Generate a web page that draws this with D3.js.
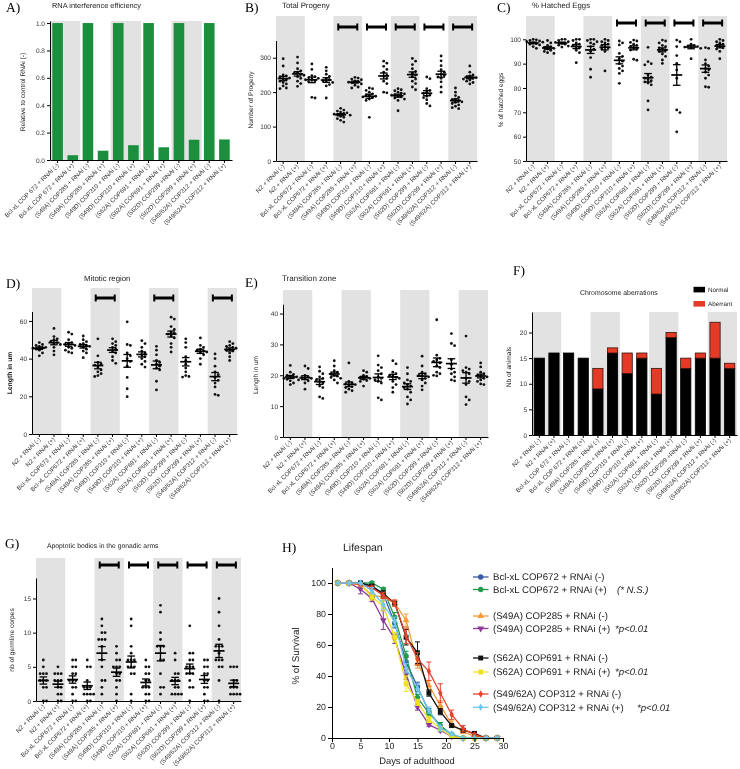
<!DOCTYPE html>
<html><head><meta charset="utf-8">
<script src="https://cdn.jsdelivr.net/npm/d3@7"></script>
<style>
body{margin:0;background:#fff;}
svg{display:block;will-change:transform;}
text{-webkit-font-smoothing:antialiased;text-rendering:geometricPrecision;}
</style></head><body>
<svg id="c" width="740" height="769"></svg>
<script>
// ---------------- DATA ----------------
const catsA = ["Bcl-xL COP 672 + RNAi (-)","Bcl-xL COP 672 + RNAi (+)","(S49A) COP285 + RNAi (-)","(S49A) COP285 + RNAi (+)","(S49D) COP310 + RNAi (-)","(S49D) COP310 + RNAi (+)","(S62A) COP691 + RNAi (-)","(S62A) COP691 + RNAi (+)","(S62D) COP299 +RNAi (-)","(S62D) COP299 + RNAi (+)","(S49/62A) COP312 + RNAi (-)","(S49/62A) COP312 + RNAi (+)"];
const rnaiEfficiency = [1.0,0.035,1.0,0.068,1.0,0.108,1.0,0.093,1.0,0.148,1.0,0.15];

const catsBG = ["N2 + RNAi (-)","N2 + RNAi (+)","Bcl-xL COP672 + RNAi (-)","Bcl-xL COP672 + RNAi (+)","(S49A) COP285 + RNAi (-)","(S49A) COP285 + RNAi (+)","(S49D) COP310 + RNAi (-)","(S49D) COP310 + RNAi (+)","(S62A) COP691 + RNAi (-)","(S62A) COP691  + RNAi (+)","(S62D) COP299 + RNAi (-)","(S62D) COP299 + RNAi (+)","(S49/62A) COP312 + RNAi (-)","(S49/62A) COP312 + RNAi (+)"];
const catsF = ["N2 + RNAi (-)","N2 + RNAi (+)","Bcl-xL COP 672 + RNAi (-)","Bcl-xL COP 672 + RNAi (+)","(S49A) COP285 + RNAi (-)","(S49A) COP285 + RNAi (+)","(S49D) COP310 + RNAi (-)","(S49D) COP310 + RNAi (+)","(S62A) COP691 + RNAi (-)","(S62A) COP691 + RNAi (+)","(S62D) COP299 +RNAi (-)","(S62D) COP299 + RNAi (+)","(S49/62A) COP312 + RNAi (-)","(S49/62A) COP312 + RNAi (+)"];

const progeny = [
 [297,276,250,247,244,241,238,236,232,228,224,218,212,210],
 [302,285,268,262,258,255,252,249,245,240,232,225,217],
 [282,266,248,245,242,240,238,236,233,230,185,183],
 [272,262,252,246,240,236,233,230,228,222,218,183],
 [153,148,145,142,140,138,136,135,133,130,127,123,118,113],
 [243,241,238,236,233,231,229,227,224,220,215,212],
 [212,210,205,200,195,192,190,188,186,184,180,176,127],
 [290,284,275,266,258,250,246,240,232,225,200,198],
 [210,207,204,200,197,195,193,191,188,186,183,180,176,146],
 [298,290,280,268,260,255,250,245,238,232,225,215,207],
 [244,239,210,205,200,196,192,188,184,178,167,160],
 [305,291,277,265,258,252,248,244,240,230,215,200],
 [212,200,190,185,180,178,175,172,170,167,163,159,155,152],
 [276,258,250,247,244,242,240,238,235,232,228,224]
];
const hatched = [
 [100,99.8,99.5,99.3,99,98.8,98.5,98.2,98,97.7,97,96.3],
 [99.5,98.5,97.5,97,96.7,96.3,96,95.5,95,94.5,94.2],
 [100,100,99.5,99,98.7,98.3,98,97.6,97.2,96.8],
 [100,100,99.5,98.5,98,97.5,97,96.5,95.5,94.5,90.4],
 [100,100,99.5,99,98.5,98,97,96,95,92.5,87.7,84.4],
 [100,99.5,99,98.5,98,97.5,97,96.5,96,95,87],
 [99.3,98.5,97.7,94.2,93,92,91,90,89,88,87,86,81.9],
 [99.7,99.3,98.7,98,97.5,97,96.5,96,95.6,91.8,91.4],
 [96.7,90.8,90,89.5,85.3,84.5,84,83.5,83,82.5,82,81.3,74.7,71],
 [99.7,99.3,98.5,97.5,97,96.5,96,95.5,95,94,93,91.5,90.1],
 [99.7,99,97,93.3,90.1,87.4,84,71,69.9,62],
 [100,98,97.5,97.2,97,96.8,96.6,96.3,92],
 [96.6,96.3,91.5,90,89,88,87.5,86.5,85.3,84,80.5,80.3],
 [100,99.5,99,98.5,98,97.5,97,96.5,96,95,92]
];
const mitotic = [
 [48.5,47.5,47,46.5,46,45.8,45.5,45,44.5,43,41.5],
 [56,51.7,50.5,50,49,48.5,48,47.5,46,44,42],
 [54,53,50,48.5,48,47.5,47,46,45.5,44.5,43.5,43],
 [52,50,49,48,47.5,47,46.5,46,45,44,43,40.5],
 [50.5,41.5,38,37,36.5,35.5,34,33,32,31,30.5],
 [50.5,49,48,47,46,45,44,43,41,39,37.5],
 [59.5,47.5,47,43,41.5,40,38.5,36,30,24,19.8],
 [49.5,48,46,44,43,42,41,40,38.5,37,35.5],
 [46.5,44.5,42,39,38,37,36,35,34,28,23.4],
 [62,61,57,55.5,54,53.5,53,52,51,48,46,43.5],
 [50.5,48.5,46,41,39,37,35,33,31,30.5,30.2],
 [51,47,46,45,44.5,44,43.5,43,42,40,37],
 [42.5,40,36,33,31.5,30,28.5,27,25,21,20.5],
 [49,48,47,46.5,46,45.5,45,44.5,44,43,41,39]
];
const transition = [
 [23.2,21,20.3,20,19.7,19.5,19.2,19,18.7,18.2,17.5,17],
 [23,22.2,20,19.5,19.2,19,18.8,18.5,18.2,17.5,15.5],
 [22.7,21.3,20.5,19.5,19,18.5,18,17.5,16.5,16,13,12.5],
 [24.7,23,21.5,21,20.5,20,19.7,19.3,19,18.5,17.5],
 [24,18,17.5,17.2,17,16.7,16.3,16,15.5,15,14.5],
 [21.5,21,20,19.6,19.3,19,18.7,18.3,18,16.5],
 [26.3,23.3,22.5,21.5,20.5,19.5,19,18.5,18,17.5,12.7,12],
 [24.7,23.7,21,20.5,20,19.7,19.3,19,18,17,16,14.5],
 [22.5,20.5,18.5,18,17.5,17,16.5,16,15.5,14.5,13,12,10.7],
 [26.2,23,21,20.5,20,19.8,19.5,19,18.5,17.5,16.5,15.3],
 [38,26.5,25.5,25,24.5,24,23,22.5,21,20.5,20,19.8],
 [33.5,30.3,29.6,25,23.5,22,21,20.5,19.5,18.5,18.2],
 [32.7,22.5,22,21.5,21,20.5,19,18,17,13,12,10.5],
 [24,22.7,21,20.5,20,19.8,19.5,19,18.5,18,17.2,17]
];
const apoptotic = [
 [6,5,4,4,4,3,3,3,2,2,0,0],
 [5,4,4,4,3,3,3,2,2,1,1,0,0],
 [6,6,5,5,4,4,3,3,3,2,2,1,0,0],
 [6,5,5,3,2,2,2,1,1,1,1,0,0],
 [12,11,10,10,9,9,9,8,6,5,3,3,2,1],
 [8,7,6,6,5,5,5,4,4,3,3,2,1,0],
 [12,11,8,7,6,6,6,5,5,5,4,4,1,0],
 [6,5,5,4,4,3,3,2,2,2,1,1,0,0],
 [14,13,10,9,8,8,8,6,6,4,2,2,1],
 [7,6,4,4,3,3,3,2,2,1,1,1,1],
 [11,7,7,6,6,5,5,5,4,4,4,3,2,2,0],
 [6,6,5,5,4,4,3,3,2,2,1,0,0],
 [15,13,11,9,8,8,8,7,6,6,6,5,5,3,0],
 [5,5,5,3,3,2,2,2,1,1,1,1]
];
const normalCounts   = [15,16,16,15,9,16,12,15,8,19,13,15,15,13];
const aberrantCounts = [0,0,0,0,4,1,4,1,5,1,2,1,7,1];

const days = [1,3,5,7,9,11,13,15,17,19,21,23,25,27,29];
const survBclNeg   = [100,100,100,98,93,74,49,33,17,8,2,0,0,0,0];
const survBclPos   = [100,100,100,100,96,78,53,26,16,8,2,0,0,0,0];
const survS49ANeg  = [100,100,99,92,91,87,76,48,34,21,9,4,1,0,0];
const survS49APos  = [100,100,96,90,76,64,41,20,8.6,5,1,0,0,0,0];
const survS62ANeg  = [100,100,100,98,93,87,65,55,29,17,8,5,3,0,0];
const survS62APos  = [100,100,99,91,85,65,35,23,12,6,1,0,0,0,0];
const survS4962Neg = [100,100,99,97,92,87,66,51,43,29,15,6,2,0,0];
const survS4962Pos = [100,100,100,95,86,75,45,32,18,6.4,2.8,0,0,0,0];
const errBclNeg   = [0,0,0,1,2,3,3,3,2,2,1,0,0,0,0];
const errBclPos   = [0,0,0,1,1,3,3,2,2,2,1,0,0,0,0];
const errS49ANeg  = [0,0,1,2,2,2,4,3,3,3,2,1,1,0,0];
const errS49APos  = [0,0,3,2,6,3,3,2,1,1,1,0,0,0,0];
const errS62ANeg  = [0,0,0,1,2,1,5,7,2,2,1,1,0,0,0];
const errS62APos  = [0,0,1,2,3,3,5,2,2,1,1,0,0,0,0];
const errS4962Neg = [0,0,1,1,2,2,5,4,6,6,3,2,1,0,0];
const errS4962Pos = [0,0,0,2,3,3,3,3,2,2,1,0,0,0,0];
const lifeLabels = ["Bcl-xL COP672 + RNAi (-)","Bcl-xL COP672 + RNAi (+)","(S49A) COP285 + RNAi (-)","(S49A) COP285 + RNAi (+)","(S62A) COP691 + RNAi (-)","(S62A) COP691 + RNAi (+)","(S49/62A) COP312 + RNAi (-)","(S49/62A) COP312 + RNAi (+)"];
const lifeNotes = ["","(* N.S.)","","*p<0.01","","*p<0.01","","*p<0.01"];

// ---------------- DRAWING ----------------
const svg = d3.select("#c");
const SANS = '"Liberation Sans", Arial, Helvetica, sans-serif';
const SERIF = '"Liberation Serif", "Times New Roman", serif';
const GRAY = "#e2e2e2";

function txt(t, x, y, size, opts = {}) {
  const e = svg.append("text").attr("x", x).attr("y", y).attr("font-size", size)
    .attr("font-family", opts.serif ? SERIF : SANS).attr("fill", opts.fill || "#222")
    .attr("text-anchor", opts.anchor || "start").text(t);
  if (opts.weight) e.attr("font-weight", opts.weight);
  if (opts.italic) e.attr("font-style", "italic");
  if (opts.rot) e.attr("transform", `rotate(${opts.rot},${x},${y})`);
  return e;
}

function frame(cfg) {
  const slot = d3.scaleBand().domain(cfg.cats).range([cfg.x0, cfg.x1]);
  const y = d3.scaleLinear().domain(cfg.domain).range([cfg.y0, cfg.yTop]);
  const g = svg.append("g");
  cfg.grayPairs.forEach(p => {
    g.append("rect").attr("x", slot(cfg.cats[2 * p])).attr("y", cfg.grayTop)
      .attr("width", 2 * slot.bandwidth()).attr("height", cfg.y0 - cfg.grayTop).attr("fill", GRAY);
  });
  return { slot, y, g };
}

function axes(cfg, slot, y) {
  const ya = svg.append("g").attr("transform", `translate(${cfg.x0},0)`)
    .call(d3.axisLeft(y).tickValues(cfg.ticks).tickSize(3).tickSizeOuter(0).tickPadding(2)
      .tickFormat(d3.format(cfg.fmt || "d")));
  ya.select(".domain").attr("stroke", "#000").attr("stroke-width", 1);
  ya.selectAll(".tick line").attr("stroke", "#000");
  ya.selectAll(".tick text").attr("font-size", 6.5).attr("fill", "#333").attr("font-family", SANS);
  const xa = svg.append("g").attr("transform", `translate(0,${cfg.y0})`)
    .call(d3.axisBottom(slot).tickSize(3).tickSizeOuter(0));
  xa.select(".domain").attr("stroke", "#000").attr("stroke-width", 1);
  xa.selectAll(".tick line").attr("stroke", "#000");
  xa.selectAll(".tick text").attr("font-size", 6.2).attr("fill", "#333").attr("font-family", SANS)
    .attr("text-anchor", "end").attr("x", -3).attr("y", 3).attr("dy", "0.35em")
    .attr("transform", "rotate(-45)");
}

function swarm(vals, y, cx, r) {
  const s = 2 * r + 0.4;
  const placed = [];
  vals.slice().sort((a, b) => b - a).forEach(v => {
    const py = y(v);
    const cand = [0];
    for (let j = 1; j < 8; j++) { cand.push(j * s, -j * s); }
    let px = cx;
    for (const o of cand) {
      const tx = cx + o;
      if (placed.every(p => Math.hypot(p[0] - tx, p[1] - py) >= s - 0.01)) { px = tx; break; }
    }
    placed.push([px, py]);
  });
  return placed;
}

function sigBar(g, slot, cats, p, yy) {
  const mid = slot(cats[2 * p]) + slot.bandwidth();
  g.append("rect").attr("x", mid - 10).attr("y", yy - 1.5).attr("width", 20).attr("height", 3).attr("fill", "#000");
  g.append("rect").attr("x", mid - 10.5).attr("y", yy - 3.5).attr("width", 2).attr("height", 7).attr("fill", "#000");
  g.append("rect").attr("x", mid + 8.5).attr("y", yy - 3.5).attr("width", 2).attr("height", 7).attr("fill", "#000");
}

function scatterPanel(cfg, data) {
  const { slot, y, g } = frame(cfg);
  (cfg.sigPairs || []).forEach(p => sigBar(g, slot, cfg.cats, p, cfg.sigY));
  data.forEach((vals, i) => {
    const cx = slot(cfg.cats[i]) + slot.bandwidth() / 2;
    swarm(vals, y, cx, 1.4).forEach(p => {
      g.append("circle").attr("cx", p[0]).attr("cy", p[1]).attr("r", 1.4).attr("fill", "#111");
    });
    const m = d3.mean(vals), se = d3.deviation(vals) / Math.sqrt(vals.length);
    g.append("line").attr("x1", cx - 5.5).attr("x2", cx + 5.5).attr("y1", y(m)).attr("y2", y(m))
      .attr("stroke", "#000").attr("stroke-width", 1.7);
    g.append("line").attr("x1", cx).attr("x2", cx).attr("y1", y(m - se)).attr("y2", y(m + se))
      .attr("stroke", "#000").attr("stroke-width", 1.3);
    [m - se, m + se].forEach(v => g.append("line").attr("x1", cx - 3.8).attr("x2", cx + 3.8)
      .attr("y1", y(v)).attr("y2", y(v)).attr("stroke", "#000").attr("stroke-width", 1.3));
  });
  axes(cfg, slot, y);
}

// ---- Panel A ----
(function () {
  const cfg = { cats: catsA, x0: 50, x1: 232, y0: 160, yTop: 21, domain: [0, 1.015], grayTop: 21,
    grayPairs: [0, 2, 4], ticks: [0, 0.2, 0.4, 0.6, 0.8, 1.0], fmt: ".1f" };
  const { slot, y, g } = frame(cfg);
  const xb = d3.scaleBand().domain(catsA).range([cfg.x0, cfg.x1]).paddingInner(0.3).paddingOuter(0.15);
  g.selectAll("rect.bar").data(rnaiEfficiency).join("rect").attr("class", "bar")
    .attr("x", (d, i) => xb(catsA[i])).attr("width", xb.bandwidth())
    .attr("y", d => y(d)).attr("height", d => y(0) - y(d)).attr("fill", "#1b8f3d");
  axes(cfg, slot, y);
  txt("A)", 6, 12, 13.5, { serif: true, fill: "#000" });
  txt("RNA interference efficiency", 52, 8, 7.4);
  txt("Relative to control RNAi (-)", 25, 92, 6.6, { anchor: "middle", rot: -90 });
})();

// ---- Panel B ----
scatterPanel({ cats: catsBG, x0: 276, x1: 477, y0: 161, yTop: 40.5, domain: [0, 350], grayTop: 16,
  grayPairs: [0, 2, 4, 6], ticks: [0, 100, 200, 300], sigPairs: [2, 3, 4, 5, 6], sigY: 27 }, progeny);
txt("B)", 245, 12, 13.5, { serif: true, fill: "#000" });
txt("Total Progeny", 282, 8, 7.8);
txt("Number of Progeny", 253, 100, 6.6, { anchor: "middle", rot: -90 });

// ---- Panel C ----
scatterPanel({ cats: catsBG, x0: 526, x1: 727, y0: 161, yTop: 39.3, domain: [50, 100], grayTop: 16,
  grayPairs: [0, 2, 4, 6], ticks: [50, 60, 70, 80, 90, 100], sigPairs: [3, 4, 5, 6], sigY: 23 }, hatched);
txt("C)", 497, 12, 13.5, { serif: true, fill: "#000" });
txt("% Hatched Eggs", 532, 8, 7.8);
txt("% of hatched eggs", 503, 100, 6.6, { anchor: "middle", rot: -90 });

// ---- Panel D ----
scatterPanel({ cats: catsBG, x0: 32, x1: 237, y0: 434, yTop: 311.5, domain: [0, 65], grayTop: 288,
  grayPairs: [0, 2, 4, 6], ticks: [0, 20, 40, 60], sigPairs: [2, 4, 6], sigY: 298 }, mitotic);
txt("D)", 6, 288, 13.5, { serif: true, fill: "#000" });
txt("Mitotic region", 84, 280.5, 7.8);
txt("Length in um", 12, 373, 6.8, { anchor: "middle", rot: -90, weight: "bold" });

// ---- Panel E ----
scatterPanel({ cats: catsBG, x0: 283, x1: 488, y0: 437, yTop: 304.3, domain: [0, 43], grayTop: 290,
  grayPairs: [0, 2, 4, 6], ticks: [0, 10, 20, 30, 40], sigPairs: [] }, transition);
txt("E)", 245, 287, 13.5, { serif: true, fill: "#000" });
txt("Transition zone", 282, 281, 8.0);
txt("Length in um", 258, 375, 6.6, { anchor: "middle", rot: -90 });

// ---- Panel F ----
(function () {
  const cfg = { cats: catsF, x0: 532, x1: 737, y0: 435, yTop: 312, domain: [0, 24], grayTop: 312,
    grayPairs: [0, 2, 4, 6], ticks: [0, 5, 10, 15, 20] };
  const { slot, y, g } = frame(cfg);
  const xb = d3.scaleBand().domain(catsF).range([cfg.x0, cfg.x1]).paddingInner(0.3).paddingOuter(0.15);
  catsF.forEach((c, i) => {
    const n = normalCounts[i], a = aberrantCounts[i];
    g.append("rect").attr("x", xb(c)).attr("width", xb.bandwidth()).attr("y", y(n)).attr("height", y(0) - y(n))
      .attr("fill", "#000").attr("stroke", "#000").attr("stroke-width", 0.8);
    if (a > 0) g.append("rect").attr("x", xb(c)).attr("width", xb.bandwidth()).attr("y", y(n + a)).attr("height", y(n) - y(n + a))
      .attr("fill", "#e53a26").attr("stroke", "#3a1410").attr("stroke-width", 0.8);
  });
  axes(cfg, slot, y);
  txt("F)", 513, 275, 13.5, { serif: true, fill: "#000" });
  txt("Chromosome aberrations", 580, 294.5, 6.9);
  txt("Nb of animals", 511, 367, 6.6, { anchor: "middle", rot: -90 });
  svg.append("rect").attr("x", 693.5).attr("y", 286.8).attr("width", 11.5).attr("height", 5.6).attr("fill", "#000");
  svg.append("rect").attr("x", 693.5).attr("y", 301).attr("width", 11.5).attr("height", 5.6).attr("fill", "#e53a26");
  txt("Normal", 708, 292, 6.3);
  txt("Aberrant", 708, 306.3, 6.3);
})();

// ---- Panel G ----
scatterPanel({ cats: catsBG, x0: 36, x1: 241, y0: 701, yTop: 578, domain: [0, 18], grayTop: 558,
  grayPairs: [0, 2, 4, 6], ticks: [0, 5, 10, 15], sigPairs: [2, 3, 4, 5, 6], sigY: 565 }, apoptotic);
txt("G)", 5, 548, 13.5, { serif: true, fill: "#000" });
txt("Apoptotic bodies in the gonadic arms", 47, 548, 6.8);
txt("nb of germline corpes", 14, 640, 6.6, { anchor: "middle", rot: -90 });

// ---- Panel H ----
(function () {
  const x = d3.scaleLinear().domain([0, 30]).range([332, 503]);
  const y = d3.scaleLinear().domain([0, 110]).range([738, 567.5]);
  const triDown = { draw(ctx, size) { const s = Math.sqrt(size / 0.433) ; const h = s * 0.866;
    ctx.moveTo(-s / 2, -h / 3); ctx.lineTo(s / 2, -h / 3); ctx.lineTo(0, 2 * h / 3); ctx.closePath(); } };
  const series = [
    { v: survBclNeg, e: errBclNeg, color: "#3a5aa6", sym: d3.symbolCircle, size: 22 },
    { v: survBclPos, e: errBclPos, color: "#219a4b", sym: d3.symbolCircle, size: 22 },
    { v: survS49ANeg, e: errS49ANeg, color: "#f39b3a", sym: d3.symbolTriangle, size: 20 },
    { v: survS49APos, e: errS49APos, color: "#8d3b98", sym: triDown, size: 20 },
    { v: survS62ANeg, e: errS62ANeg, color: "#111111", sym: d3.symbolSquare, size: 24 },
    { v: survS62APos, e: errS62APos, color: "#eee21f", sym: d3.symbolSquare, size: 24 },
    { v: survS4962Neg, e: errS4962Neg, color: "#e5432b", sym: d3.symbolDiamond, size: 16 },
    { v: survS4962Pos, e: errS4962Pos, color: "#6fc6ee", sym: d3.symbolDiamond, size: 16 }
  ];
  const g = svg.append("g");
  const line = d3.line().x((d, i) => x(days[i])).y(d => y(d));
  series.forEach(s => {
    g.append("path").attr("d", line(s.v)).attr("fill", "none").attr("stroke", s.color).attr("stroke-width", 1.3);
    s.v.forEach((v, i) => {
      if (s.e[i] > 0) {
        const cx = x(days[i]);
        g.append("line").attr("x1", cx).attr("x2", cx).attr("y1", y(v - s.e[i])).attr("y2", y(v + s.e[i])).attr("stroke", s.color).attr("stroke-width", 1);
        [v - s.e[i], v + s.e[i]].forEach(w => g.append("line").attr("x1", cx - 2.5).attr("x2", cx + 2.5)
          .attr("y1", y(w)).attr("y2", y(w)).attr("stroke", s.color).attr("stroke-width", 1));
      }
    });
    s.v.forEach((v, i) => {
      g.append("path").attr("d", d3.symbol().type(s.sym).size(s.size)()).attr("fill", s.color)
        .attr("transform", `translate(${x(days[i])},${y(v)})`);
    });
  });
  const ya = svg.append("g").attr("transform", "translate(332,0)")
    .call(d3.axisLeft(y).tickValues([0, 20, 40, 60, 80, 100]).tickSize(4).tickSizeOuter(0).tickPadding(2));
  const xa = svg.append("g").attr("transform", "translate(0,738)")
    .call(d3.axisBottom(x).tickValues([0, 5, 10, 15, 20, 25, 30]).tickSize(4).tickSizeOuter(0).tickPadding(1));
  [ya, xa].forEach(a => {
    a.select(".domain").attr("stroke", "#000").attr("stroke-width", 1);
    a.selectAll(".tick line").attr("stroke", "#000");
    a.selectAll(".tick text").attr("font-size", 8.8).attr("fill", "#222").attr("font-family", SANS);
  });
  txt("H)", 282, 552, 13.5, { serif: true, fill: "#000" });
  txt("Lifespan", 343, 550.5, 10.5);
  txt("% of Survival", 299, 656, 9.8, { anchor: "middle", rot: -90 });
  txt("Days of adulthood", 417, 764, 9.4, { anchor: "middle" });
  const rowsY = [577, 589.5, 616, 628.5, 658, 672, 694, 707.3];
  series.forEach((s, i) => {
    const ry = rowsY[i];
    svg.append("line").attr("x1", 473).attr("x2", 488.5).attr("y1", ry).attr("y2", ry).attr("stroke", s.color).attr("stroke-width", 1.3);
    svg.append("path").attr("d", d3.symbol().type(s.sym).size(s.size)()).attr("fill", s.color)
      .attr("transform", `translate(480.7,${ry})`);
    txt(lifeLabels[i], 493, ry + 3.3, 9.6);
  });
  const noteX = [0, 617, 0, 615, 0, 615, 0, 637];
  lifeNotes.forEach((n, i) => { if (n) txt(n, noteX[i], rowsY[i] + 3.3, 9.6, { italic: true }); });
})();
</script>
</body></html>
